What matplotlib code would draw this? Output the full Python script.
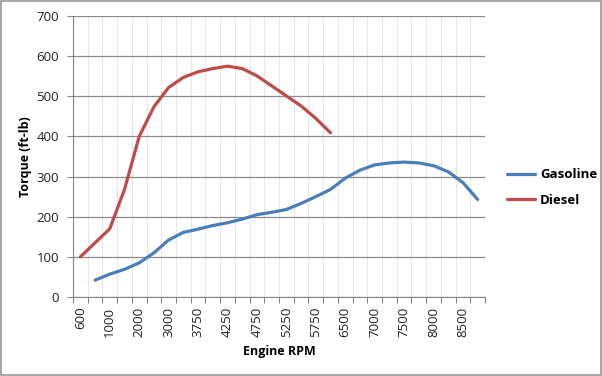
import matplotlib
matplotlib.use("Agg")
import matplotlib.pyplot as plt
import numpy as np

rpm = ["600", "800", "1000", "1500", "2000", "2500", "3000", "3500", "3750", "4000",
       "4250", "4500", "4750", "5000", "5250", "5500", "5750", "6000", "6500", "6750",
       "7000", "7250", "7500", "7750", "8000", "8250", "8500", "8750"]
gasoline = [None, 42, 57, 69, 85, 110, 142, 161, 169, 178, 185, 194, 205, 211, 218,
            233, 250, 268, 296, 316, 329, 334, 336, 334, 327, 312, 285, 243]
diesel = [100, 135, 170, 268, 400, 474, 522, 547, 561, 569, 575, 569, 551, 526, 501,
          476, 445, 409] + [None] * 10

plt.rcParams['font.family'] = ['Open Sans', 'DejaVu Sans']

fig = plt.figure(figsize=(6.02, 3.76), dpi=100)
ax = fig.add_axes([73/602, 79/376, 412/602, 281/376])

x = np.arange(len(rpm))
g = np.array([np.nan if v is None else v for v in gasoline], float)
d = np.array([np.nan if v is None else v for v in diesel], float)
ax.plot(x, g, color="#4a7ebb", lw=2.3, label="Gasoline", solid_capstyle="round")
ax.plot(x, d, color="#be4b48", lw=2.3, label="Diesel", solid_capstyle="round")

ax.set_xlim(-0.5, len(rpm) - 0.5)
ax.set_ylim(0, 700)
ax.set_yticks(range(0, 701, 100))
ax.tick_params(axis='y', labelsize=9.5, length=4, color="#868686", labelcolor="#222222", pad=6)

ax.set_xticks(np.arange(-0.5, len(rpm)), [""] * (len(rpm) + 1))
ax.set_xticks(x[::2], [rpm[i] for i in x[::2]], minor=True)
ax.tick_params(axis='x', which='major', length=4, color="#868686")
ax.tick_params(axis='x', which='minor', length=0, labelsize=9.5, labelrotation=90,
               labelcolor="#222222", pad=7)

ax.grid(axis='y', color="#8c8c8c", lw=0.9)
ax.grid(axis='x', which='major', color="#e6e6e6", lw=0.8)
ax.set_axisbelow(True)
for s in ["top", "right"]:
    ax.spines[s].set_visible(False)
for s in ["left", "bottom"]:
    ax.spines[s].set_color("#868686")

ax.set_xlabel("Engine RPM", fontsize=9, fontweight="bold", labelpad=6)
ax.set_ylabel("Torque (ft-lb)", fontsize=9, fontweight="bold", labelpad=3)

ax.legend(loc="center left", bbox_to_anchor=(1.025, 0.39), frameon=False,
          prop={"size": 9.5, "weight": "bold"},
          handlelength=2.1, handletextpad=0.4, labelspacing=0.95)

fig.patches.append(plt.Rectangle((0.002, 0.003), 0.996, 0.994, transform=fig.transFigure,
                                 fill=False, edgecolor="#a0a0a0", lw=1.3))
fig.savefig("out.png", dpi=100)
